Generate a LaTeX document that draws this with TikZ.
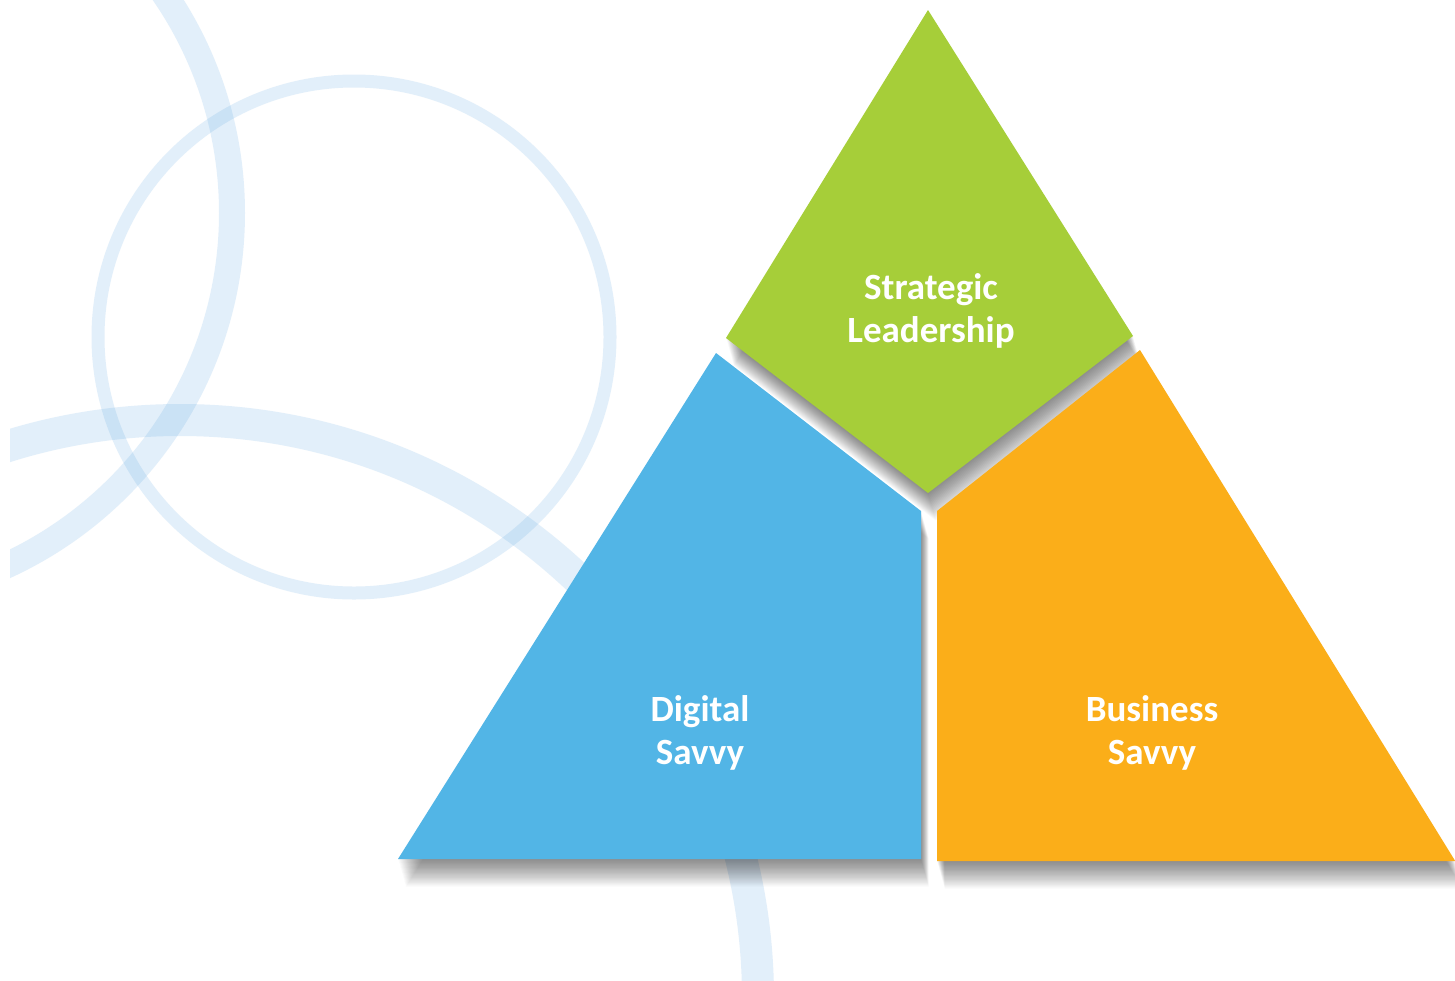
\documentclass[tikz,border=0pt]{standalone}
\usepackage{fontspec}
\setmainfont{Carlito}
\definecolor{bandblue}{RGB}{80,160,225}
\definecolor{leafgreen}{RGB}{166,206,57}
\definecolor{skyblue}{RGB}{82,181,230}
\definecolor{amber}{RGB}{251,174,25}
\tikzset{
  band/.style={draw=bandblue, draw opacity=0.16},
  shade layer/.style={fill=black, fill opacity=0.022},
  label/.style={text=white, align=center, font=\bfseries\fontsize{18.5}{21.5}\selectfont}
}
\begin{document}
\begin{tikzpicture}[x=0.5pt,y=-0.5pt]
\useasboundingbox (0,0) rectangle (1455,980);
\fill[white] (0,0) rectangle (1455,980);
% background rings
\begin{scope}
  \clip (10,0) rectangle (1455,980);
  \draw[band, line width=6.5pt] (354,337) circle[radius=256];
  \draw[band, line width=13pt] (-156,213) circle[radius=388];
  \draw[band, line width=16pt] (180,998) circle[radius=578];
\end{scope}
% soft shadows
\foreach \i in {1,...,22}{
  \fill[shade layer, shift={(0.35*\i,1.25*\i)}] (716,353) -- (921,511) -- (921,859) -- (398,859) -- cycle;
  \fill[shade layer, shift={(0.35*\i,1.25*\i)}] (1140,350) -- (1470,885) -- (1470,861) -- (937,861) -- (937,511) -- cycle;
  \fill[shade layer, shift={(0.35*\i,1.25*\i)}] (928,10) -- (1133,336) -- (928,493) -- (726,338) -- cycle;
}
% pyramid facets
\fill[skyblue] (716,353) -- (921,511) -- (921,859) -- (398,859) -- cycle;
\fill[amber] (1140,350) -- (1470,885) -- (1470,861) -- (937,861) -- (937,511) -- cycle;
\fill[leafgreen] (928,10) -- (1133,336) -- (928,493) -- (726,338) -- cycle;
% labels
\node[label] (strat) at (931,311) {Strategic\\Leadership};
\node[label] (digital) at (700,733) {Digital\\Savvy};
\node[label] (business) at (1152,733) {Business\\Savvy};
\end{tikzpicture}
\end{document}
